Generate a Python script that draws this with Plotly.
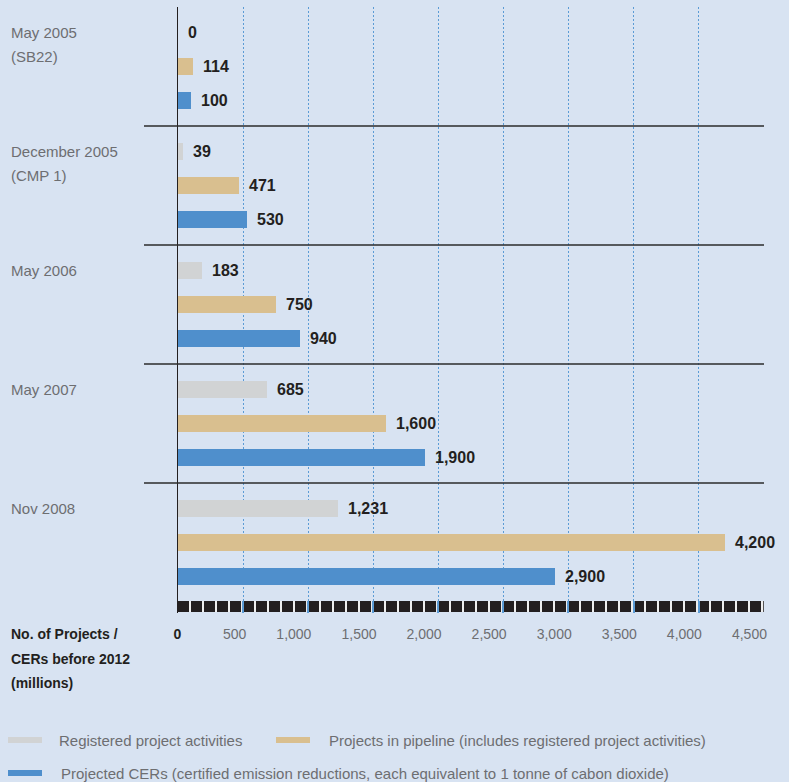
import plotly.graph_objects as go

# ---------------- data ----------------
group_line1 = ["May 2005", "December 2005", "May 2006", "May 2007", "Nov 2008"]
group_line2 = ["(SB22)", "(CMP 1)", "", "", ""]
registered = [0, 39, 183, 685, 1231]
pipeline = [114, 471, 750, 1600, 4200]
cers = [100, 530, 940, 1900, 2900]
series_names = [
    "Registered project activities",
    "Projects in pipeline (includes registered project activities)",
    "Projected CERs (certified emission reductions, each equivalent to 1 tonne of cabon dioxide)",
]
tick_vals = [0, 500, 1000, 1500, 2000, 2500, 3000, 3500, 4000, 4500]
tick_labels = ["0", "500", "1,000", "1,500", "2,000", "2,500", "3,000", "3,500", "4,000", "4,500"]
axis_title = ["No. of Projects /", "CERs before 2012", "(millions)"]

# ---------------- style ----------------
W, H = 789, 782
L, R, T, B = 178, 25, 7, 169
PW = W - L - R
PH = H - T - B
BG = "#d8e3f2"
COLORS = ["#d1d3d4", "#d9bf8f", "#4f8fcc"]
DARK = "#231f20"
GREY_TXT = "#6d6e71"
GRID = "#5b9bd5"
FONT = "Liberation Sans, Arial, sans-serif"
UNIT_PX = 34.0            # px per bar slot
GROUP_SLOTS = 3.5
YMAX = PH / UNIT_PX


def paper_x(px):
    return (px - L) / PW


def paper_y(px):
    return (H - B - px) / PH


def slot(g, j):
    return g * GROUP_SLOTS + 0.75 + j


fig = go.Figure()
series = [registered, pipeline, cers]
for j, (name, vals, col) in enumerate(zip(series_names, series, COLORS)):
    ys = [slot(g, j) for g in range(len(vals))]
    fig.add_trace(go.Bar(
        x=vals, y=ys, orientation="h", width=0.5, name=name,
        marker=dict(color=col, line=dict(width=0)), showlegend=False,
        hoverinfo="x",
    ))
    for v, y in zip(vals, ys):
        fig.add_annotation(
            x=v, y=y, xref="x", yref="y", text=f"<b>{v:,}</b>", showarrow=False,
            xanchor="left", yanchor="middle", xshift=8,
            font=dict(family=FONT, size=16, color=DARK),
        )

# group labels
for g, (l1, l2) in enumerate(zip(group_line1, group_line2)):
    y0 = slot(g, 0)
    fig.add_annotation(x=paper_x(9), y=y0, xref="paper", yref="y", text=l1,
                       showarrow=False, xanchor="left", yanchor="middle",
                       font=dict(family=FONT, size=15, color=GREY_TXT))
    if l2:
        fig.add_annotation(x=paper_x(9), y=y0 + 24 / UNIT_PX, xref="paper", yref="y", text=l2,
                           showarrow=False, xanchor="left", yanchor="middle",
                           font=dict(family=FONT, size=15, color=GREY_TXT))

# group separators
for g in range(1, len(group_line1)):
    yy = g * GROUP_SLOTS
    fig.add_shape(type="line", xref="paper", yref="y", x0=paper_x(144), x1=1,
                  y0=yy, y1=yy, line=dict(color="#2b2b2b", width=1.6), layer="above")

# black chequered base bar
base_y = (606.5 - T) / UNIT_PX
fig.add_shape(type="line", xref="x", yref="y", x0=0, x1=tick_vals[-1], y0=base_y, y1=base_y,
              line=dict(color="#eeeeee", width=11), layer="below")
fig.add_shape(type="line", xref="x", yref="y", x0=0, x1=tick_vals[-1], y0=base_y, y1=base_y,
              line=dict(color=DARK, width=11, dash="11px,2px"), layer="below")

# axis title lines
for i, t in enumerate(axis_title):
    fig.add_annotation(x=paper_x(9), y=paper_y(634 + i * 24.5), xref="paper", yref="paper",
                       text=f"<b>{t}</b>", showarrow=False, xanchor="left", yanchor="middle",
                       font=dict(family=FONT, size=14, color=DARK))

# custom legend
legend_items = [(8, 740, 57), (276, 740, 327), (8, 773, 59)]
for (sx, sy, tx), name, col in zip(legend_items, series_names, COLORS):
    fig.add_shape(type="rect", xref="paper", yref="paper",
                  x0=paper_x(sx), x1=paper_x(sx + 34), y0=paper_y(sy - 3), y1=paper_y(sy + 3),
                  fillcolor=col, line=dict(width=0))
    fig.add_annotation(x=paper_x(tx), y=paper_y(sy), xref="paper", yref="paper", text=name,
                       showarrow=False, xanchor="left", yanchor="middle",
                       font=dict(family=FONT, size=15, color=GREY_TXT))

tick_text = [f"<b><span style='color:{DARK}'>{tick_labels[0]}</span></b>"] + tick_labels[1:]

fig.update_layout(
    width=W, height=H, margin=dict(l=L, r=R, t=T, b=B, pad=0),
    paper_bgcolor=BG, plot_bgcolor=BG, bargap=0, showlegend=False,
    font=dict(family=FONT),
    xaxis=dict(
        range=[0, 4502], tickvals=tick_vals, ticktext=tick_text,
        showgrid=True, gridcolor=GRID, griddash="2px,2px", gridwidth=1,
        zeroline=False, showline=False,
        ticks="inside", ticklen=12, tickcolor=GRID, tickwidth=1.5,
        ticklabelposition="outside left", ticklabelshift=4, ticklabelstandoff=11,
        tickfont=dict(family=FONT, size=14, color=GREY_TXT),
        fixedrange=True,
    ),
    yaxis=dict(
        range=[YMAX, 0], showticklabels=False, showgrid=False, zeroline=False,
        showline=True, linecolor=DARK, linewidth=1, ticks="", fixedrange=True,
    ),
)

fig.write_html(
    "out.html",
    config={"displayModeBar": False},
    post_script="document.body.style.margin='0';document.body.style.background='" + BG + "';",
)
